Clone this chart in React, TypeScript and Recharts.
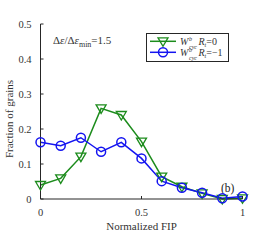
import React from "react";
import { LineChart, Line, XAxis, YAxis, Legend } from "recharts";

const fipBins = [0, 0.1, 0.2, 0.3, 0.4, 0.5, 0.6, 0.7, 0.8, 0.9, 1.0];
const seriesRt0 = [0.04, 0.059, 0.121, 0.259, 0.24, 0.164, 0.064, 0.035, 0.016, 0.0, 0.002];
const seriesRt1 = [0.162, 0.152, 0.175, 0.135, 0.162, 0.116, 0.051, 0.032, 0.018, 0.002, 0.007];
const xTicks = [0, 0.5, 1];
const yTicks = [0, 0.1, 0.2, 0.3, 0.4, 0.5];
const xTickLabels = ["0", "0.5", "1"];
const yTickLabels = ["0", "0.1", "0.2", "0.3", "0.4", "0.5"];

const data = fipBins.map((x, i) => ({ x, a: seriesRt0[i], b: seriesRt1[i] }));

const GREEN = "#1c8c1c";
const BLUE = "#1414f0";
const AXIS = "#262626";
const FONT = "'Liberation Serif', 'DejaVu Serif', serif";
const TL = 3;

const TriDot = (props: any) => {
  const { cx, cy } = props;
  if (cx == null || cy == null) return null;
  return (
    <path
      d={`M${cx - 5},${cy - 3.5} L${cx + 5},${cy - 3.5} L${cx},${cy + 5} Z`}
      fill="none"
      stroke={GREEN}
      strokeWidth={1.3}
    />
  );
};

const CircDot = (props: any) => {
  const { cx, cy } = props;
  if (cx == null || cy == null) return null;
  return <circle cx={cx} cy={cy} r={4.5} fill="none" stroke={BLUE} strokeWidth={1.5} />;
};

const BottomTick = (props: any) => {
  const { x, y, payload } = props;
  return (
    <g>
      <line x1={x} y1={y} x2={x} y2={y - TL} stroke={AXIS} strokeWidth={1} />
      <text x={x} y={y + 17} textAnchor="middle" fontSize={10.5} fill="#333" fontFamily={FONT}>
        {xTickLabels[xTicks.indexOf(payload.value)] ?? ""}
      </text>
    </g>
  );
};

const TopTick = (props: any) => {
  const { x, y } = props;
  return <line x1={x} y1={y} x2={x} y2={y + TL} stroke={AXIS} strokeWidth={1} />;
};

const LeftTick = (props: any) => {
  const { x, y, payload } = props;
  const idx = yTicks.findIndex((t) => Math.abs(t - payload.value) < 1e-9);
  return (
    <g>
      <line x1={x} y1={y} x2={x + TL} y2={y} stroke={AXIS} strokeWidth={1} />
      <text x={x - 9} y={y + 3.5} textAnchor="end" fontSize={10.5} fill="#333" fontFamily={FONT}>
        {idx >= 0 ? yTickLabels[idx] : ""}
      </text>
    </g>
  );
};

const RightTick = (props: any) => {
  const { x, y } = props;
  return <line x1={x} y1={y} x2={x - TL} y2={y} stroke={AXIS} strokeWidth={1} />;
};

const LegendLabel = ({ r }: { r: string }) => (
  <g>
    <text x={0} y={0} fontFamily={FONT} fontSize={10} fill="#333" fontStyle="italic">W</text>
    <text x={9} y={-4.5} fontFamily={FONT} fontSize={6} fill="#333" fontStyle="italic">b</text>
    <text x={9} y={3.5} fontFamily={FONT} fontSize={6} fill="#333" fontStyle="italic">cyc</text>
    <text x={18.5} y={0} fontFamily={FONT} fontSize={10} fill="#333">
      <tspan fontStyle="italic">R</tspan>
      <tspan fontSize={6} dy={2} fontStyle="italic">t</tspan>
      <tspan dy={-2}>={r}</tspan>
    </text>
  </g>
);

const LegendBox = () => (
  <div style={{ position: "absolute", left: 146, top: 33, width: 83, height: 29 }}>
    <svg width={83} height={29} style={{ display: "block" }}>
      <rect x={0.5} y={0.5} width={82} height={28} fill="#fff" stroke={AXIS} strokeWidth={1} />
      <line x1={4} y1={8.3} x2={30} y2={8.3} stroke={GREEN} strokeWidth={1.5} />
      <TriDot cx={17} cy={8.3} />
      <line x1={4} y1={19.3} x2={30} y2={19.3} stroke={BLUE} strokeWidth={1.5} />
      <CircDot cx={17} cy={19.3} />
      <g transform="translate(34,12)">
        <LegendLabel r="0" />
      </g>
      <g transform="translate(34,23)">
        <LegendLabel r="−1" />
      </g>
    </svg>
  </div>
);

export default function App() {
  return (
    <div style={{ position: "absolute", left: 0, top: 0, width: 267, height: 240, background: "#fff" }}>
      <LineChart
        width={267}
        height={240}
        data={data}
        margin={{ top: 24, right: 24.5, bottom: 0, left: 0 }}
      >
        <XAxis
          dataKey="x"
          type="number"
          domain={[0, 1]}
          ticks={xTicks}
          tickLine={false}
          tickSize={0}
          tickMargin={0}
          height={41}
          axisLine={{ stroke: AXIS, strokeWidth: 1 }}
          tick={<BottomTick />}
          interval={0}
        />
        <XAxis
          xAxisId="top"
          orientation="top"
          dataKey="x"
          type="number"
          domain={[0, 1]}
          ticks={xTicks}
          tickLine={false}
          tickSize={0}
          tickMargin={0}
          height={0}
          axisLine={{ stroke: AXIS, strokeWidth: 1 }}
          tick={<TopTick />}
          interval={0}
        />
        <YAxis
          type="number"
          domain={[0, 0.5]}
          ticks={yTicks}
          tickLine={false}
          tickSize={0}
          tickMargin={0}
          width={40.5}
          axisLine={{ stroke: AXIS, strokeWidth: 1 }}
          tick={<LeftTick />}
          interval={0}
        />
        <YAxis
          yAxisId="right"
          orientation="right"
          type="number"
          domain={[0, 0.5]}
          ticks={yTicks}
          tickLine={false}
          tickSize={0}
          tickMargin={0}
          width={0}
          axisLine={{ stroke: AXIS, strokeWidth: 1 }}
          tick={<RightTick />}
          interval={0}
        />
        <Line
          dataKey="a"
          stroke={GREEN}
          strokeWidth={1.5}
          dot={<TriDot />}
          activeDot={false}
          isAnimationActive={false}
        />
        <Line
          dataKey="b"
          stroke={BLUE}
          strokeWidth={1.5}
          dot={<CircDot />}
          activeDot={false}
          isAnimationActive={false}
        />
        <Legend content={() => <LegendBox />} wrapperStyle={{ position: "absolute", left: 0, top: 0, width: 0, height: 0 }} />
        <text x={53} y={44} fontFamily={FONT} fontSize={11} fill="#333">
          <tspan>Δ</tspan>
          <tspan fontStyle="italic">ε</tspan>
          <tspan>/Δ</tspan>
          <tspan fontStyle="italic">ε</tspan>
          <tspan fontSize={8} dy={3}>min</tspan>
          <tspan dy={-3}>=1.5</tspan>
        </text>
        <text x={221} y={192} fontFamily={FONT} fontSize={11.5} fill="#222">(b)</text>
        <text x={141.5} y={230} textAnchor="middle" fontFamily={FONT} fontSize={11} fill="#333">
          Normalized FIP
        </text>
        <text
          x={0}
          y={0}
          transform="translate(13,119) rotate(-90)"
          textAnchor="middle"
          fontFamily={FONT}
          fontSize={11}
          fill="#333"
        >
          Fraction of grains
        </text>
      </LineChart>
    </div>
  );
}
